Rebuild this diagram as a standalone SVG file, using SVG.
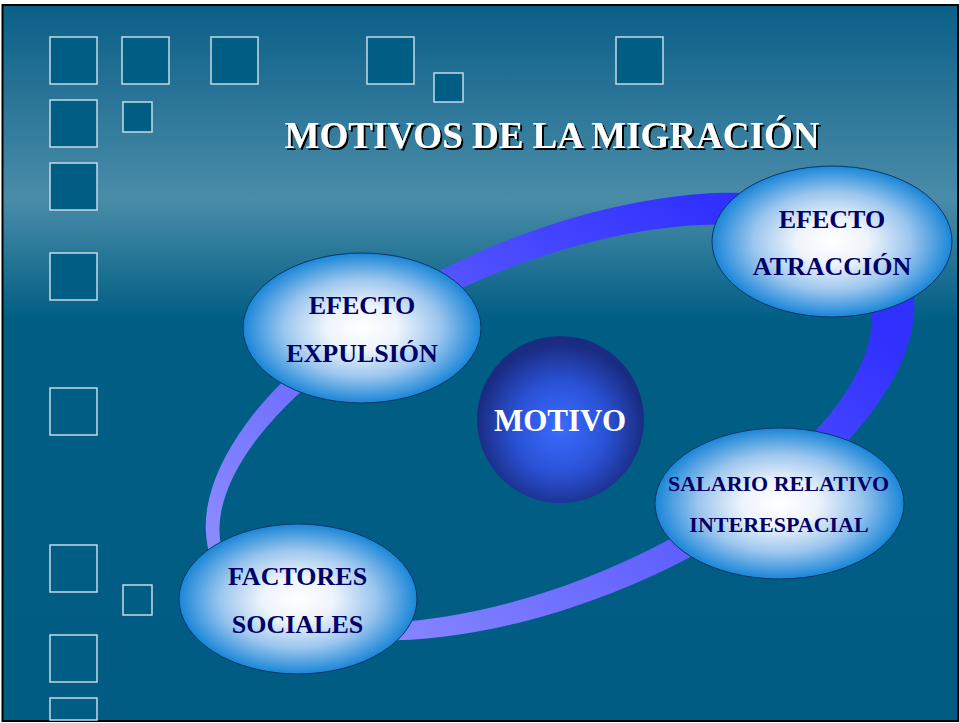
<svg xmlns="http://www.w3.org/2000/svg" width="959" height="723" viewBox="0 0 959 723">
<defs>
  <linearGradient id="bg" x1="0" y1="5" x2="0" y2="721" gradientUnits="userSpaceOnUse">
    <stop offset="0" stop-color="#0b5f88"/>
    <stop offset="0.27" stop-color="#4a8ca8"/>
    <stop offset="0.44" stop-color="#005e84"/>
    <stop offset="1" stop-color="#005c82"/>
  </linearGradient>
  <linearGradient id="ring" x1="217" y1="-154" x2="-281" y2="124" gradientUnits="userSpaceOnUse">
    <stop offset="0" stop-color="#3030ff"/>
    <stop offset="1" stop-color="#8a8aff"/>
  </linearGradient>
  <radialGradient id="node" cx="0.5" cy="0.5" r="0.5">
    <stop offset="0" stop-color="#ffffff"/>
    <stop offset="0.3" stop-color="#eef4fc"/>
    <stop offset="0.65" stop-color="#9cc6ee"/>
    <stop offset="1" stop-color="#1a86d8"/>
  </radialGradient>
  <radialGradient id="core" cx="0.5" cy="0.55" r="0.5">
    <stop offset="0" stop-color="#3a6cff"/>
    <stop offset="0.55" stop-color="#2a52d6"/>
    <stop offset="1" stop-color="#1a2c82"/>
  </radialGradient>
  <filter id="shadow" x="-5%" y="-20%" width="110%" height="140%">
    <feOffset in="SourceAlpha" dx="2" dy="2" result="off"/>
    <feFlood flood-color="#000000"/>
    <feComposite in2="off" operator="in" result="sh"/>
    <feMerge>
      <feMergeNode in="sh"/>
      <feMergeNode in="SourceGraphic"/>
    </feMerge>
  </filter>
  <style>
    .sq { fill: #005e84; stroke: #c4dae4; stroke-width: 1.5; }
    .nd { fill: url(#node); stroke: #0b3566; stroke-width: 1; }
    .lbl { font-family: "Liberation Serif", "Times New Roman", serif; font-weight: bold; fill: #000066; text-anchor: middle; }
    .title { font-family: "Liberation Serif", "Times New Roman", serif; font-weight: bold; font-size: 37px; fill: #ffffff; text-anchor: middle; }
  </style>
</defs>
<rect x="0" y="0" width="959" height="723" fill="#ffffff"/>
<rect x="2.5" y="5" width="955.5" height="716" fill="url(#bg)" stroke="#000000" stroke-width="2"/>

<g id="squares">
  <rect class="sq" x="50" y="37" width="47" height="47"/>
  <rect class="sq" x="122" y="37" width="47" height="47"/>
  <rect class="sq" x="211" y="37" width="47" height="47"/>
  <rect class="sq" x="367" y="37" width="47" height="47"/>
  <rect class="sq" x="434" y="73" width="29" height="29"/>
  <rect class="sq" x="616" y="37" width="47" height="47"/>
  <rect class="sq" x="50" y="100" width="47" height="47"/>
  <rect class="sq" x="123" y="102" width="29" height="30"/>
  <rect class="sq" x="50" y="163" width="47" height="47"/>
  <rect class="sq" x="50" y="253" width="47" height="47"/>
  <rect class="sq" x="50" y="388" width="47" height="47"/>
  <rect class="sq" x="50" y="545" width="47" height="47"/>
  <rect class="sq" x="123" y="585" width="29" height="30"/>
  <rect class="sq" x="50" y="635" width="47" height="47"/>
  <rect class="sq" x="50" y="698" width="47" height="22"/>
</g>

<g id="title">
  <text class="title" x="552" y="148" filter="url(#shadow)">MOTIVOS DE LA MIGRACIÓN</text>
</g>

<g id="connectors">
  <g transform="translate(560 416.5) rotate(-23)">
    <path fill="url(#ring)" fill-rule="evenodd" d="M 377 0 A 377 183 0 1 0 -377 0 A 377 183 0 1 0 377 0 Z M 332 1 A 348 158 0 1 0 -364 1 A 348 158 0 1 0 332 1 Z"/>
  </g>
</g>

<g id="node-expulsion">
  <ellipse class="nd" cx="362" cy="328" rx="119" ry="75"/>
  <text class="lbl" x="362" y="314" font-size="26">EFECTO</text>
  <text class="lbl" x="362" y="362" font-size="26">EXPULSIÓN</text>
</g>
<g id="node-atraccion">
  <ellipse class="nd" cx="832" cy="241.5" rx="120" ry="75.5"/>
  <text class="lbl" x="832" y="228" font-size="26">EFECTO</text>
  <text class="lbl" x="832" y="275" font-size="26">ATRACCIÓN</text>
</g>
<g id="node-factores">
  <ellipse class="nd" cx="298" cy="599" rx="119" ry="75"/>
  <text class="lbl" x="297.5" y="585" font-size="26">FACTORES</text>
  <text class="lbl" x="297.5" y="633" font-size="26">SOCIALES</text>
</g>
<g id="node-salario">
  <ellipse class="nd" cx="779.5" cy="503.5" rx="124.5" ry="75.5"/>
  <text class="lbl" x="778.5" y="491" font-size="22">SALARIO RELATIVO</text>
  <text class="lbl" x="779" y="532" font-size="22">INTERESPACIAL</text>
</g>
<g id="node-motivo">
  <circle cx="560.5" cy="419.5" r="83.5" fill="url(#core)"/>
  <text class="lbl" x="560" y="431" font-size="31" style="fill:#ffffff">MOTIVO</text>
</g>
</svg>
